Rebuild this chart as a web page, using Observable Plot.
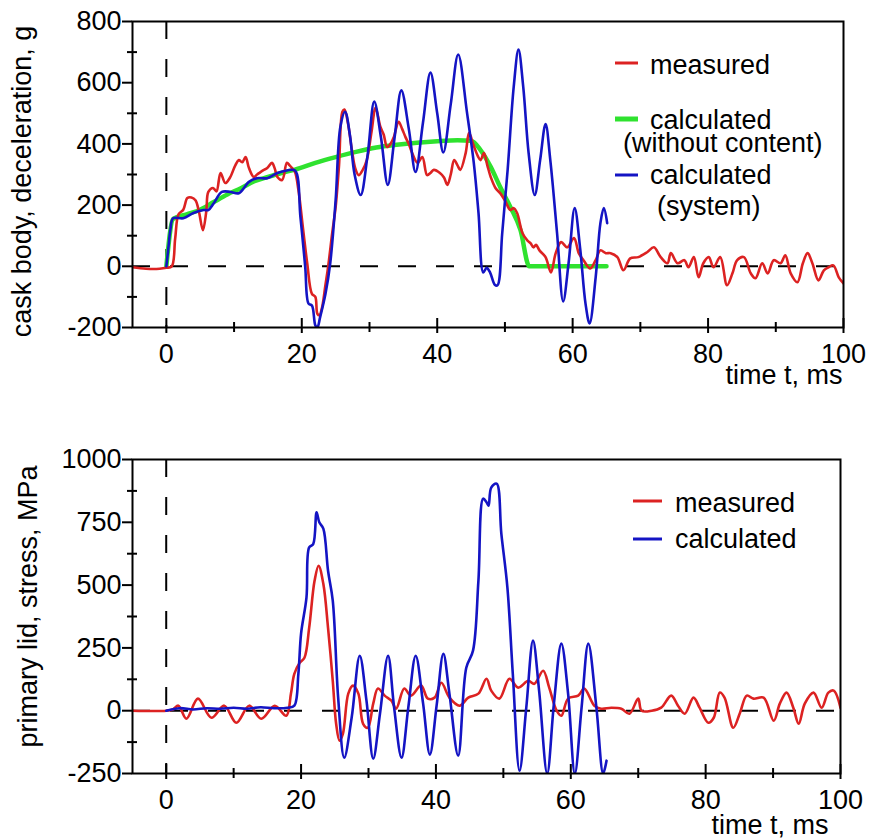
<!DOCTYPE html>
<html>
<head>
<meta charset="utf-8">
<script src="https://cdn.jsdelivr.net/npm/d3@7"></script>
<script src="https://cdn.jsdelivr.net/npm/@observablehq/plot@0.6"></script>
<style>
  body { margin: 0; background: #fff; }
  #fig { position: relative; width: 869px; height: 839px; font-family: "Liberation Sans", Arial, sans-serif; }
  #fig > div, #fig > svg { position: absolute; left: 0; }
</style>
</head>
<body>
<div id="fig"></div>
<script>
// ---------- data (time t in ms, value) ----------
const xMajor = [0, 20, 40, 60, 80, 100];
const xMinor = [10, 30, 50, 70, 90];
const topYMajor = [-200, 0, 200, 400, 600, 800];
const topYMinor = [-100, 100, 300, 500, 700];
const botYMajor = [-250, 0, 250, 500, 750, 1000];
const botYMinor = [-125, 125, 375, 625, 875];

// cask body deceleration, measured (g)
const bodyMeasured = [[-5,-3],[-3,-8],[-1,-8],[0,-5],[0.8,0],[1.3,90],[1.8,170],[2.5,185],[3.1,223],[3.7,225],[4.3,216],[4.8,180],[5.4,118],[5.9,180],[6.2,243],[6.9,256],[7.4,245],[8.0,305],[8.7,272],[9.4,290],[10.2,331],[10.7,347],[11.2,340],[11.7,357],[12.2,321],[12.9,292],[13.4,300],[13.9,308],[14.4,315],[14.9,321],[15.6,338],[16.0,320],[16.4,292],[17.1,282],[17.8,338],[18.2,330],[18.6,320],[19.0,308],[19.5,250],[20.2,120],[20.8,10],[21.5,-90],[22.0,-100],[22.3,-155],[22.6,-160],[23.0,-134],[23.5,-60],[23.9,0],[24.5,110],[25.0,194],[25.5,330],[26.0,505],[26.3,512],[26.8,470],[27.4,380],[27.9,320],[28.4,298],[29.0,315],[29.6,347],[30.3,440],[30.9,518],[31.6,456],[32.1,430],[32.6,390],[33.1,400],[33.6,423],[34.3,472],[34.8,450],[35.3,423],[35.8,400],[36.3,370],[37.1,338],[37.8,357],[38.5,298],[39.0,305],[39.5,315],[40.4,305],[41.0,290],[41.5,266],[42.0,300],[42.5,347],[43.0,330],[43.4,315],[44.2,370],[44.7,436],[45.3,400],[46.0,360],[46.4,347],[46.9,370],[47.4,330],[47.9,292],[48.6,256],[49.3,239],[50.0,215],[50.8,184],[51.3,190],[51.8,174],[52.6,108],[53.3,85],[53.8,75],[54.2,62],[54.6,70],[55.1,52],[56.0,30],[56.8,-20],[57.5,43],[58.3,79],[59.2,62],[60.2,92],[60.9,43],[61.6,20],[62.6,-7],[63.4,20],[64.1,52],[64.9,43],[65.6,43],[66.6,30],[67.5,-13],[68.5,26],[69.7,30],[71,46],[72,62],[73,30],[74,10],[74.5,43],[75.5,10],[76.5,20],[77.1,-3],[77.9,30],[78.6,-36],[79.3,10],[80.1,30],[80.8,-3],[81.8,30],[82.8,-62],[83.6,-23],[84.3,20],[85.3,30],[86.3,-23],[87,-39],[88,10],[88.8,-23],[89.7,20],[90.7,10],[91.4,36],[92.2,-23],[93.2,-52],[94,10],[94.7,43],[95.4,10],[96.3,-46],[97.1,-13],[97.8,-3],[98.5,3],[99.3,-36],[100,-56]];

// cask body deceleration, calculated without content (g)
const bodyNoContent = [[0,0],[1,155],[3,170],[5,185],[7,210],[9,235],[11,255],[13,278],[15,292],[17,305],[19,316],[22,338],[25,357],[28,374],[31,388],[34,397],[37,404],[40,409],[43,412],[45,410],[46.4,380],[47.9,325],[49.3,259],[50.8,194],[52.3,118],[53.6,0],[65,0]];

// cask body deceleration, calculated system (g)
const bodySystem = [[0,0],[0.3,60],[0.6,120],[1.0,157],[2.5,157],[4,174],[5.5,184],[6.2,184],[7,206],[8.2,243],[9.5,243],[10.7,239],[12.2,276],[13.4,288],[14.9,288],[16.4,305],[17.8,313],[19.0,313],[19.8,161],[20.5,0],[21,-122],[21.5,-128],[22,-193],[22.3,-200],[22.7,-167],[23.5,-90],[24.2,10],[25,216],[25.7,456],[26.4,505],[27.1,430],[27.8,300],[28.7,233],[29.7,360],[30.7,538],[31.7,420],[32.7,266],[33.7,420],[34.7,575],[35.8,450],[36.8,308],[37.9,470],[39.0,633],[40.0,500],[40.9,372],[42.0,530],[43.1,692],[44.4,502],[45.4,338],[46.1,174],[46.8,-20],[47.3,-5],[47.8,-20],[48.5,-60],[48.9,-62],[49.6,108],[50.4,315],[51.3,587],[52,708],[52.7,587],[53.5,370],[54.4,233],[55.2,347],[56,465],[56.7,347],[57.7,108],[58.6,-115],[59.4,10],[60.3,190],[61.1,60],[61.9,-122],[62.5,-187],[63.4,-36],[64.1,141],[64.6,190],[65.1,141]];

// primary lid stress, measured (MPa)
const lidMeasured = [[-5,0],[0,0],[1,5],[1.8,20],[3,-32],[4.7,48],[6.7,-28],[8.6,20],[10.4,-48],[12.3,20],[14.1,-32],[16.1,20],[17.8,-20],[18.5,68],[19,147],[19.8,191],[20.5,211],[21.2,330],[22,517],[22.6,577],[23.3,505],[24,330],[24.7,119],[25.2,-52],[25.7,-119],[26.2,-92],[27,68],[27.7,100],[28.5,68],[29.2,-52],[29.9,-68],[30.7,28],[31.4,88],[32.4,60],[33.4,40],[34.1,8],[35.3,88],[36.3,60],[37.8,100],[38.8,48],[39.8,52],[40.8,111],[42,52],[43.5,20],[44.8,52],[46.3,68],[47.5,127],[48.2,80],[49.4,48],[50.9,127],[52.2,92],[53.7,119],[54.6,107],[55.9,159],[56.8,92],[57.9,0],[58.6,-20],[59.6,48],[61.1,60],[62,88],[63.5,20],[64.5,8],[66,12],[67.5,8],[68.7,-12],[70,48],[70.5,0],[72,0],[73.4,12],[74.9,60],[75.9,20],[76.9,-12],[78.2,52],[79.1,12],[80.4,-48],[81.2,-28],[82.1,72],[82.8,52],[84.1,-68],[85.1,-8],[86.1,60],[87.1,48],[88.6,52],[90.1,-40],[91,28],[92,72],[93,12],[93.8,-52],[94.7,28],[96,72],[97.2,12],[98.2,72],[99,80],[100,12]];

// primary lid stress, calculated (MPa)
const lidCalculated = [[0,0],[2,10],[4,5],[6,10],[8,8],[10,12],[12,8],[14,14],[16,10],[18,12],[19,20],[19.6,147],[20,307],[20.8,450],[21.2,650],[21.8,663],[22.3,790],[22.7,750],[23.3,725],[24,557],[24.7,438],[25.5,52],[26.4,-187],[27.5,-28],[28.7,219],[29.7,40],[30.7,-191],[31.7,-12],[32.9,219],[33.8,12],[34.9,-187],[35.9,12],[37,219],[38.1,28],[39.1,-175],[40.1,20],[41.1,227],[42,68],[43.3,-179],[44.5,171],[45.5,239],[46.3,517],[47,844],[47.5,830],[47.8,816],[48.2,888],[49,904],[49.7,705],[50.6,490],[51.4,147],[52.4,-239],[53.4,12],[54.4,279],[55.3,80],[56.5,-250],[57.5,28],[58.6,267],[59.6,68],[60.6,-250],[61.6,12],[62.6,267],[63.8,12],[64.8,-250],[65.3,-199]];

// ---------- styling ----------
const RED = "#dc2222", GREEN = "#2fe22f", BLUE = "#1414c4";
const FONT = "'Liberation Sans', Arial, sans-serif";
const fx = d => d[0], fy = d => d[1];

function panel({height, mt, mb, mr, yDomain, yMajor, yMinor, series, ylabel, ylabelDx, ylabelDy, tDx, tDy}) {
  return Plot.plot({
    width: 869, height,
    marginLeft: 132, marginRight: mr, marginTop: mt, marginBottom: mb,
    x: {domain: [-5, 100]},
    y: {domain: yDomain},
    style: {fontFamily: FONT, fontSize: "27px", color: "black", background: "transparent", overflow: "visible"},
    marks: [
      Plot.ruleX([0], {stroke: "black", strokeWidth: 2, strokeDasharray: "18,20"}),
      Plot.ruleY([0], {stroke: "black", strokeWidth: 2, strokeDasharray: "18,20"}),
      ...series.map(s => Plot.line(s.data, {x: fx, y: fy, stroke: s.color, strokeWidth: s.w, curve: s.curve, clip: true})),
      Plot.frame({stroke: "black", strokeWidth: 2}),
      Plot.axisY(yMajor, {anchor: "left", tickSize: 10, tickPadding: 1, strokeWidth: 2, label: null, tickFormat: d => String(d)}),
      Plot.axisY(yMinor, {anchor: "left", tickSize: 10, dx: 5, strokeWidth: 2, label: null, tickFormat: () => ""}),
      Plot.axisX(xMajor, {anchor: "bottom", tickSize: 15, dy: -9, strokeWidth: 2, label: null, tickFormat: () => ""}),
      Plot.axisX(xMinor, {anchor: "bottom", tickSize: 10, dy: -5, strokeWidth: 2, label: null, tickFormat: () => ""}),
      Plot.axisX(xMajor, {anchor: "bottom", tickSize: 0, tickPadding: 16, label: null, tickFormat: d => String(d)}),
      Plot.text(["time t, ms"], {frameAnchor: "bottom-right", textAnchor: "end", lineAnchor: "top", dx: tDx, dy: tDy, fontSize: 27}),
      Plot.text([ylabel], {frameAnchor: "left", rotate: -90, textAnchor: "middle", lineAnchor: "middle", dx: ylabelDx, dy: ylabelDy, fontSize: 27})
    ]
  });
}

const fig = document.getElementById("fig");

const topChart = panel({
  height: 420, mt: 21, mb: 93, mr: 26,
  yDomain: [-200, 800], yMajor: topYMajor, yMinor: topYMinor,
  series: [
    {data: bodyNoContent, color: GREEN, w: 4.5, curve: "monotone-x"},
    {data: bodyMeasured, color: RED, w: 2.6, curve: "catmull-rom"},
    {data: bodySystem, color: BLUE, w: 2.6, curve: "catmull-rom"}
  ],
  ylabel: "cask body, deceleration, g", ylabelDx: -110, ylabelDy: 7, tDx: -1, tDy: 37
});
const topWrap = document.createElement("div");
topWrap.style.top = "0px";
topWrap.appendChild(topChart);
fig.appendChild(topWrap);

const botChart = panel({
  height: 419, mt: 39, mb: 66, mr: 29,
  yDomain: [-250, 1000], yMajor: botYMajor, yMinor: botYMinor,
  series: [
    {data: lidMeasured, color: RED, w: 2.6, curve: "catmull-rom"},
    {data: lidCalculated, color: BLUE, w: 2.6, curve: "catmull-rom"}
  ],
  ylabel: "primary lid, stress, MPa", ylabelDx: -104, ylabelDy: -10, tDx: -12, tDy: 41
});
const botWrap = document.createElement("div");
botWrap.style.top = "420px";
botWrap.appendChild(botChart);
fig.appendChild(botWrap);

// ---------- legends ----------
const legendTop = [
  {label: ["measured"], color: RED, w: 3, ly: 63, tx: [650], ty: [74]},
  {label: ["calculated", "(without content)"], color: GREEN, w: 5, ly: 119, tx: [650, 623], ty: [129, 152]},
  {label: ["calculated", "(system)"], color: BLUE, w: 3, ly: 175, tx: [650, 657], ty: [184, 215]}
];
const legendBot = [
  {label: ["measured"], color: RED, w: 3, ly: 501, tx: [675], ty: [512]},
  {label: ["calculated"], color: BLUE, w: 3, ly: 539, tx: [675], ty: [548]}
];
const svg = d3.select(fig).append("svg")
  .attr("width", 869).attr("height", 839)
  .style("top", "0px").style("pointer-events", "none");
function drawLegend(items, x1, x2) {
  for (const it of items) {
    svg.append("line").attr("x1", x1).attr("x2", x2).attr("y1", it.ly).attr("y2", it.ly)
      .attr("stroke", it.color).attr("stroke-width", it.w);
    it.label.forEach((t, i) => {
      svg.append("text").attr("x", it.tx[i]).attr("y", it.ty[i])
        .attr("font-family", FONT).attr("font-size", 27).attr("fill", "black").text(t);
    });
  }
}
drawLegend(legendTop, 615, 638);
drawLegend(legendBot, 633, 662);
</script>
</body>
</html>
